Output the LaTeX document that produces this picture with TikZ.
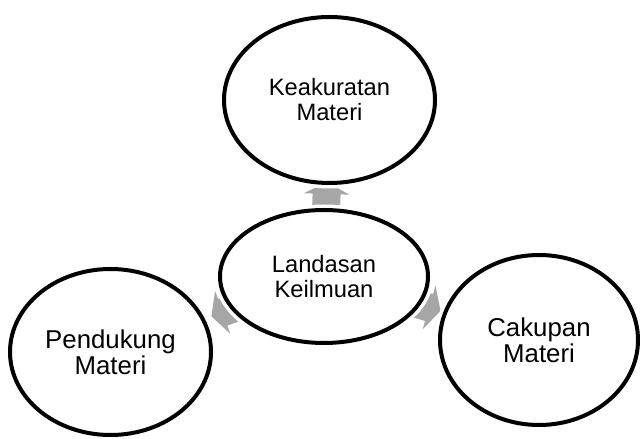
\documentclass[tikz,border=0pt]{standalone}
\usepackage{fontspec}
\setmainfont{Liberation Sans}
\usetikzlibrary{arrows.meta,shapes.geometric}
\definecolor{arrowgray}{HTML}{A6A6A6}
\pgfdeclarelayer{bg}
\pgfsetlayers{bg,main}

\begin{document}
\begin{tikzpicture}[x=0.5bp,y=-0.5bp,
        bubble/.style={ellipse,draw=black,fill=white,line width=2bp,inner sep=0pt,align=center,
                       preaction={draw=white,line width=5.5bp}},
        small/.style={font=\fontsize{11.85bp}{12.5bp}\selectfont},
        big/.style={font=\fontsize{12.9bp}{13bp}\selectfont},
        link/.style={draw=arrowgray,line width=14bp,-{Triangle[width=22.5bp,length=6bp]},
                     shorten <=-15bp}]
                    \useasboundingbox (0,0) rectangle (640,439);
                    \node[bubble,small,minimum width=105.5bp,minimum height=83bp] (keak) at (329.5,100) {Keakuratan\\Materi};
                    \node[bubble,small,minimum width=104bp,minimum height=66.5bp] (land) at (324,276.5) {Landasan\\Keilmuan};
                    \node[bubble,big,minimum width=100.5bp,minimum height=83bp] (pend) at (110.5,352) {Pendukung\\Materi};
                    \node[bubble,big,minimum width=99bp,minimum height=85bp] (caku) at (539,340) {Cakupan\\Materi};
                    \begin{pgfonlayer}{bg}
                        \draw[link,shorten >=-1.5bp] (land) -- (keak);
                        \draw[link,shorten >=3.5bp] (land) -- (pend);
                        \draw[link,shorten >=1.5bp] (land) -- (caku);
                    \end{pgfonlayer}
\end{tikzpicture}
\end{document}
